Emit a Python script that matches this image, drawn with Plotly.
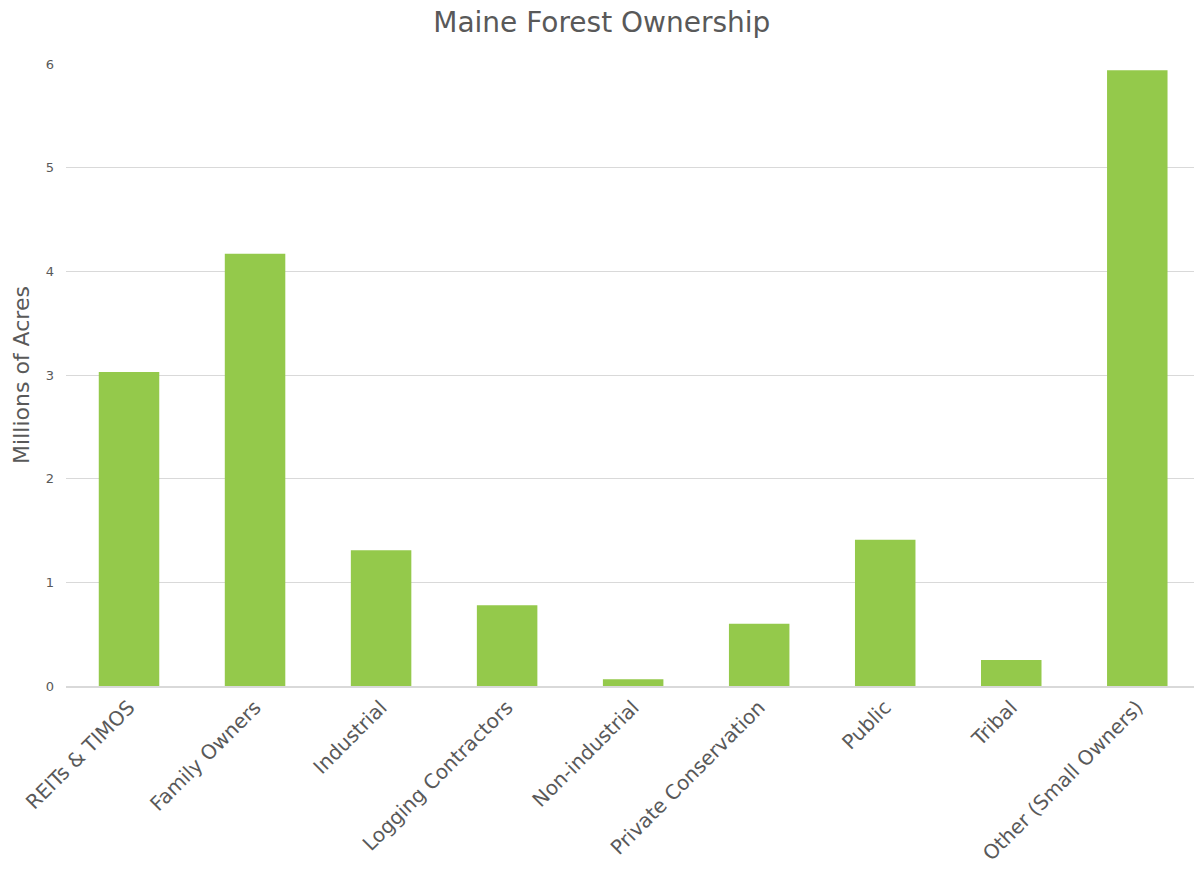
import plotly.graph_objects as go

categories = ["REITs & TIMOS", "Family Owners", "Industrial", "Logging Contractors",
              "Non-industrial", "Private Conservation", "Public", "Tribal",
              "Other (Small Owners)"]
acres_millions = [3.03, 4.17, 1.31, 0.78, 0.065, 0.60, 1.41, 0.25, 5.94]
y_ticks = [0, 1, 2, 3, 4, 5, 6]

FONT = "DejaVu Sans"
GREY = "#595959"

fig = go.Figure(go.Bar(
    x=categories, y=acres_millions,
    marker=dict(color="#94C94B", line=dict(width=0)),
))

fig.update_layout(
    width=1194, height=869,
    margin=dict(l=66, r=0, t=64, b=183),
    paper_bgcolor="white", plot_bgcolor="white",
    bargap=0.52,
    showlegend=False,
    title=dict(text="Maine Forest Ownership", x=0.504, xanchor="center",
               y=0.975, yanchor="middle",
               font=dict(family=FONT, size=28, color=GREY)),
    font=dict(family=FONT, color=GREY),
)
fig.update_xaxes(
    range=[-0.5, 8.45], tickangle=-45,
    tickfont=dict(family=FONT, size=20, color=GREY),
    showline=True, linecolor="#D9D9D9", linewidth=1.5,
    showgrid=False, ticks="",
)
fig.update_yaxes(
    range=[0, 6], tickvals=y_ticks,
    tickfont=dict(family=FONT, size=13, color=GREY),
    showgrid=True, gridcolor="#D9D9D9", gridwidth=1.2,
    zeroline=False, ticks="", ticklabelstandoff=11,
    title=dict(text="Millions of Acres", standoff=10,
               font=dict(family=FONT, size=22, color=GREY)),
)

fig.write_html("out.html")
